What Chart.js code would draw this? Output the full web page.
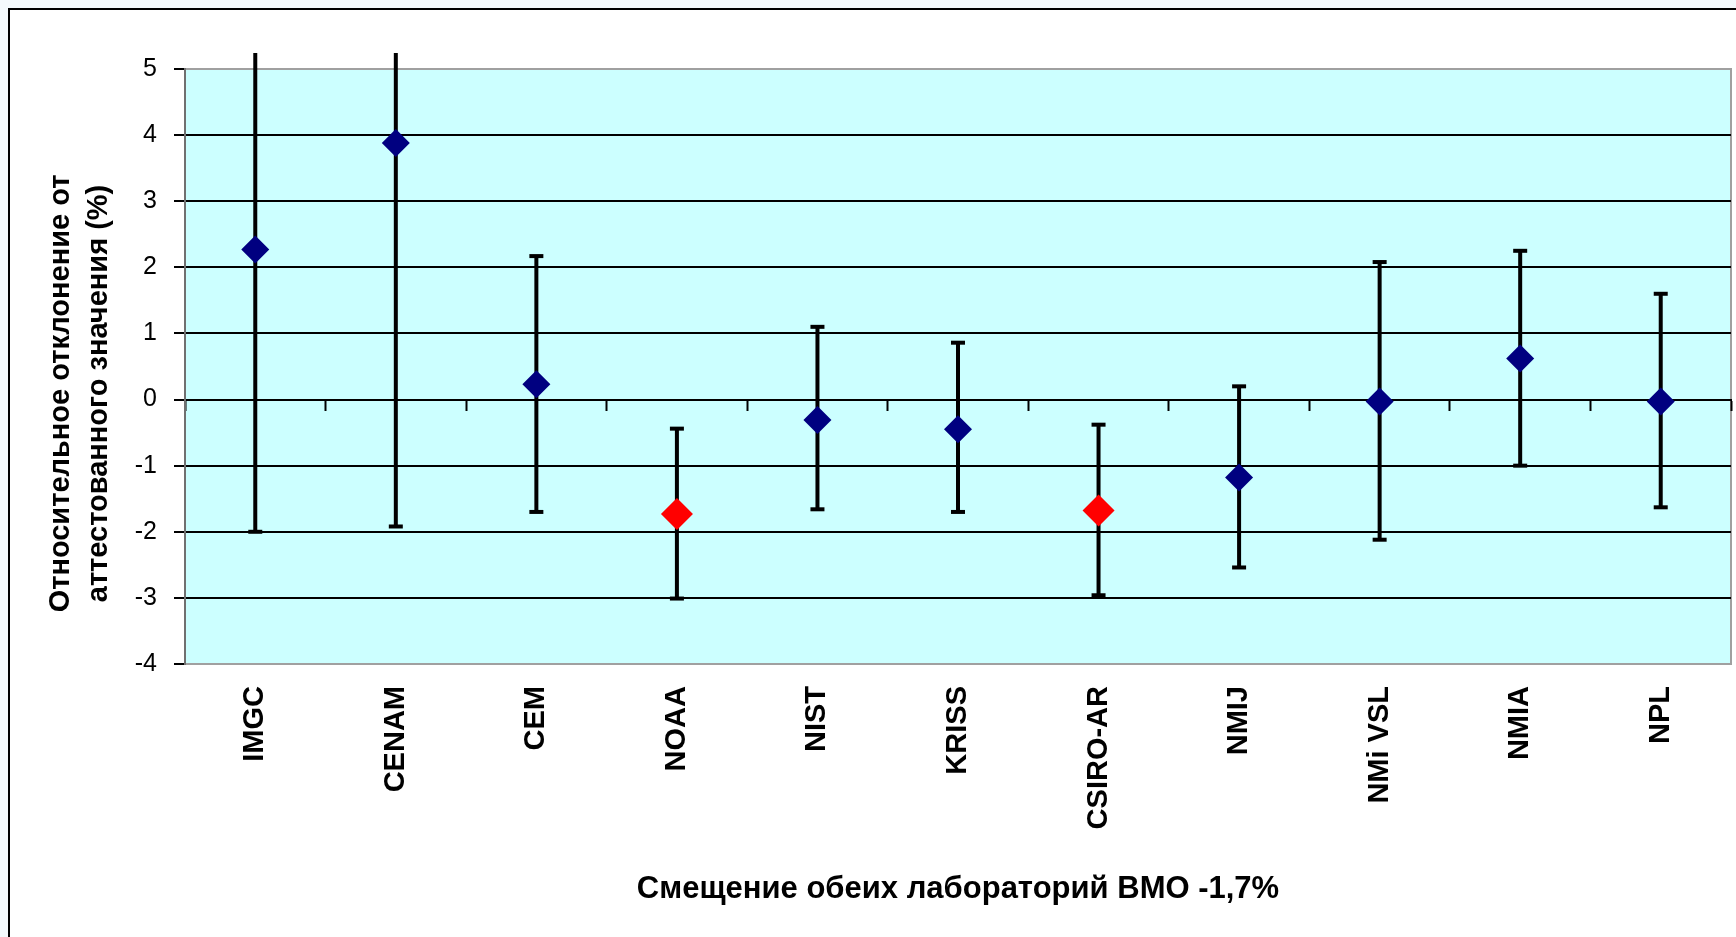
<!DOCTYPE html>
<html>
<head>
<meta charset="utf-8">
<script src="https://cdn.jsdelivr.net/npm/chart.js@4"></script>
<style>
  html, body { margin: 0; padding: 0; background: #f4f9fc; overflow: hidden; }
  #frame { position: absolute; left: 8px; top: 8px; width: 1790px; height: 990px; border: 2px solid #000; background: #fff; }
  #chart { position: absolute; left: 0; top: 0; }
</style>
</head>
<body>
<div id="frame"></div>
<canvas id="chart" width="1736" height="937"></canvas>
<script>
// labs + their deviation from certified value (%), with error bar ends
const labs = ['IMGC', 'CENAM', 'CEM', 'NOAA', 'NIST', 'KRISS', 'CSIRO-AR', 'NMIJ', 'NMi VSL', 'NMIA', 'NPL'];
const values = [2.27, 3.88, 0.23, -1.73, -0.31, -0.45, -1.68, -1.18, -0.03, 0.62, -0.03];
const lower = [-2.00, -1.92, -1.70, -3.01, -1.66, -1.70, -2.96, -2.54, -2.12, -1.00, -1.63];
const upper = [6.54, 9.68, 2.17, -0.44, 1.10, 0.86, -0.38, 0.20, 2.08, 2.25, 1.60];
const flagged = ['NOAA', 'CSIRO-AR']; // the two BMO labs, drawn red

const yMin = -4, yMax = 5, yStep = 1;
const yTitle = ['Относительное отклонение от', 'аттестованного значения (%)'];
const xTitle = 'Смещение обеих лабораторий ВМО -1,7%';

const FONT = "'Liberation Sans', Arial, sans-serif";

const plotBg = {
  id: 'plotBg',
  beforeDraw(chart) {
    const { ctx, chartArea: a } = chart;
    ctx.save();
    ctx.fillStyle = '#ccffff';
    ctx.fillRect(a.left, a.top, a.right - a.left, a.bottom - a.top);
    ctx.strokeStyle = '#a0a0a0';
    ctx.lineWidth = 2;
    ctx.strokeRect(a.left, a.top, a.right - a.left, a.bottom - a.top);
    ctx.restore();
  }
};

const errorBars = {
  id: 'errorBars',
  beforeDatasetsDraw(chart) {
    const { ctx, chartArea: a, scales: { x, y } } = chart;
    ctx.save();
    // excel lets the bars poke a little over the plot top, then cuts them
    ctx.beginPath();
    ctx.rect(a.left, a.top - 16, a.right - a.left, a.bottom - a.top + 32);
    ctx.clip();
    ctx.strokeStyle = '#000';
    ctx.lineWidth = 4;
    labs.forEach((lab, i) => {
      const px = x.getPixelForValue(i);
      const top = y.getPixelForValue(upper[i]);
      const bot = y.getPixelForValue(lower[i]);
      ctx.beginPath();
      ctx.moveTo(px, top);
      ctx.lineTo(px, bot);
      ctx.stroke();
      [top, bot].forEach((py) => {
        ctx.beginPath();
        ctx.moveTo(px - 7, py);
        ctx.lineTo(px + 7, py);
        ctx.stroke();
      });
    });
    ctx.restore();
  }
};

const yTitleDraw = {
  id: 'yTitleDraw',
  afterDraw(chart) {
    const { ctx, chartArea: a } = chart;
    const cy = (a.top + a.bottom) / 2 + 27;
    ctx.save();
    ctx.fillStyle = '#000';
    ctx.font = 'bold 29px ' + FONT;
    ctx.textAlign = 'center';
    ctx.textBaseline = 'middle';
    yTitle.forEach((line, i) => {
      ctx.save();
      ctx.translate(61 + i * 38, cy);
      ctx.rotate(-Math.PI / 2);
      ctx.fillText(line, 0, 0);
      ctx.restore();
    });
    ctx.restore();
  }
};

const colors = labs.map((l) => flagged.includes(l) ? '#ff0000' : '#000080');
const radii = labs.map((l) => flagged.includes(l) ? 16 : 14);

new Chart(document.getElementById('chart'), {
  type: 'line',
  data: {
    labels: labs,
    datasets: [{
      data: values,
      showLine: false,
      pointStyle: 'rectRot',
      pointRadius: radii,
      pointHoverRadius: radii,
      pointBackgroundColor: colors,
      pointBorderWidth: 0,
      borderColor: colors
    }]
  },
  options: {
    responsive: false,
    devicePixelRatio: 1,
    animation: false,
    layout: { autoPadding: false, padding: { left: 0, right: 5, top: 69, bottom: 0 } },
    plugins: { legend: { display: false }, tooltip: { enabled: false } },
    scales: {
      x: {
        type: 'category',
        position: 'bottom',
        offset: true,
        grid: { display: false },
        border: { display: false },
        ticks: {
          autoSkip: false,
          minRotation: 90,
          maxRotation: 90,
          padding: 14,
          color: '#000',
          font: { family: FONT, size: 29, weight: 'bold' }
        },
        title: {
          display: true,
          text: xTitle,
          color: '#000',
          font: { family: FONT, size: 31, weight: 'bold' },
          padding: { top: 0, bottom: 29 }
        },
        afterFit(scale) { scale.height = 273; }
      },
      x2: {
        type: 'category',
        position: { y: 0 },
        offset: true,
        grid: { offset: true, drawOnChartArea: false, tickLength: 10, tickColor: '#000', tickWidth: 2 },
        border: { color: '#000', width: 2 },
        ticks: { display: false }
      },
      y: {
        min: yMin,
        max: yMax,
        grid: {
          color: (c) => (c.tick.value === yMin || c.tick.value === yMax) ? '#a0a0a0' : '#000',
          lineWidth: 2,
          tickLength: 11,
          tickColor: '#000',
          tickWidth: 2
        },
        border: { color: '#707070', width: 2 },
        ticks: {
          stepSize: yStep,
          padding: 17,
          color: '#000',
          font: { family: FONT, size: 25 },
          callback: (v) => String(v)
        },
        afterFit(scale) { scale.width = 185; }
      }
    }
  },
  plugins: [plotBg, errorBars, yTitleDraw]
});
</script>
</body>
</html>
